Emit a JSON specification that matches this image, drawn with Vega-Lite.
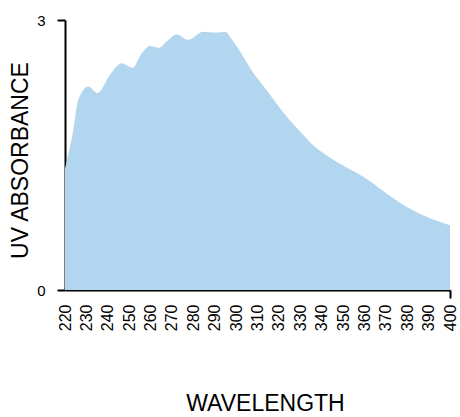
{
  "$schema": "https://vega.github.io/schema/vega-lite/v6.json",
  "autosize": "none",
  "width": 385,
  "height": 270,
  "padding": {"left": 65, "top": 20, "right": 10, "bottom": 127},
  "background": "white",
  "config": {"view": {"stroke": null}},
  "data": {"values": [
    {"wavelength": 220, "absorbance": 1.35},
    {"wavelength": 223.9, "absorbance": 1.78},
    {"wavelength": 226.2, "absorbance": 2.11},
    {"wavelength": 230.9, "absorbance": 2.26},
    {"wavelength": 235.1, "absorbance": 2.19},
    {"wavelength": 241, "absorbance": 2.39},
    {"wavelength": 246.5, "absorbance": 2.52},
    {"wavelength": 251.6, "absorbance": 2.47},
    {"wavelength": 255.9, "absorbance": 2.63},
    {"wavelength": 259.7, "absorbance": 2.71},
    {"wavelength": 264.1, "absorbance": 2.69},
    {"wavelength": 267.5, "absorbance": 2.76},
    {"wavelength": 272.2, "absorbance": 2.84},
    {"wavelength": 277.6, "absorbance": 2.78},
    {"wavelength": 284.7, "absorbance": 2.87},
    {"wavelength": 290.9, "absorbance": 2.86},
    {"wavelength": 294.8, "absorbance": 2.87},
    {"wavelength": 298.7, "absorbance": 2.76},
    {"wavelength": 303.4, "absorbance": 2.59},
    {"wavelength": 308.1, "absorbance": 2.41},
    {"wavelength": 314.3, "absorbance": 2.22},
    {"wavelength": 320.5, "absorbance": 2.02},
    {"wavelength": 329.9, "absorbance": 1.76},
    {"wavelength": 335.9, "absorbance": 1.61},
    {"wavelength": 343.9, "absorbance": 1.47},
    {"wavelength": 359.3, "absorbance": 1.26},
    {"wavelength": 376.6, "absorbance": 0.97},
    {"wavelength": 387.4, "absorbance": 0.83},
    {"wavelength": 400, "absorbance": 0.72}
  ]},
  "mark": {"type": "area", "color": "#b3d6f0", "interpolate": "monotone"},
  "encoding": {
    "x": {
      "field": "wavelength",
      "type": "quantitative",
      "scale": {"domain": [220, 400], "nice": false, "zero": false},
      "axis": {
        "title": "WAVELENGTH",
        "titleFont": "Liberation Sans",
        "titleFontSize": 23,
        "titleFontWeight": "normal",
        "titleColor": "black",
        "titlePadding": 62,
        "titleX": 200,
        "values": [220,230,240,250,260,270,280,290,300,310,320,330,340,350,360,370,380,390,400],
        "labelAngle": 270,
        "labelFont": "Liberation Sans",
        "labelFontSize": 16,
        "labelColor": "black",
        "labelPadding": 6,
        "labelFlush": false,
        "labelOverlap": false,
        "grid": false,
        "domainColor": "black",
        "domainWidth": 2,
        "tickSize": 8,
        "tickWidth": 2,
        "tickColor": {"condition": {"test": "datum.value == 400", "value": "black"}, "value": "transparent"}
      }
    },
    "y": {
      "field": "absorbance",
      "type": "quantitative",
      "scale": {"domain": [0, 3], "nice": false},
      "axis": {
        "title": "UV ABSORBANCE",
        "titleFont": "Liberation Sans",
        "titleFontSize": 23,
        "titleFontWeight": "normal",
        "titleColor": "black",
        "titlePadding": 4,
        "titleY": 140,
        "values": [0, 3],
        "labelFont": "Liberation Sans",
        "labelFontSize": 15,
        "labelColor": "black",
        "labelPadding": 12,
        "labelFlush": false,
        "grid": false,
        "domainColor": "black",
        "domainWidth": 2,
        "tickSize": 8,
        "tickWidth": 2,
        "tickColor": "black"
      }
    }
  }
}
